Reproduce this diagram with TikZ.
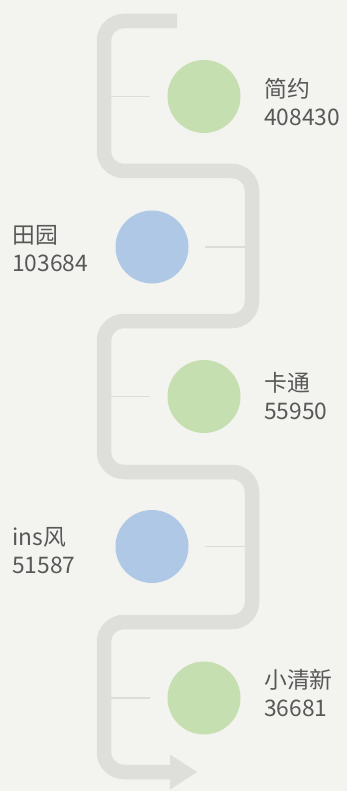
\documentclass[tikz,border=0pt]{standalone}
\usepackage{fontspec}
\newfontfamily\cjk{Noto Sans CJK SC}
\definecolor{bg}{RGB}{243,243,240}
\definecolor{band}{RGB}{222,222,219}
\definecolor{tickc}{RGB}{220,220,216}
\definecolor{greenc}{RGB}{198,223,176}
\definecolor{bluec}{RGB}{174,200,229}
\definecolor{txt}{RGB}{88,88,88}
\tikzset{
  bandline/.style={draw=band, line width=14.5pt, rounded corners=20pt, line cap=butt},
  tickline/.style={draw=tickc, line width=1.5pt},
  dotg/.style={circle, fill=greenc, minimum size=73pt, inner sep=0pt},
  dotb/.style={circle, fill=bluec, minimum size=73pt, inner sep=0pt},
  lbl/.style={anchor=base west, align=left, inner sep=0pt, text=txt, font=\cjk\fontsize{22.8}{28}\selectfont},
}
\begin{document}
\begin{tikzpicture}[x=1pt, y=-1pt]
\fill[bg] (0,0) rectangle (347,791);
\useasboundingbox (0,0) rectangle (347,791);
% path
\coordinate (s) at (177,21);
\coordinate (e) at (170,772);
\draw[bandline] (s) -- (104,21) -- (104,171) -- (252,171) -- (252,321) -- (104,321) -- (104,472) -- (252,472) -- (252,622) -- (104,622) -- (104,772) -- (e);
\coordinate (h1) at (170,754.5);
\coordinate (h2) at (197,772);
\coordinate (h3) at (170,789.5);
\fill[band] (h1) -- (h2) -- (h3) -- cycle;
% circles
\node[dotg] (c1) at (204,96.5) {};
\node[dotb] (c2) at (152,247) {};
\node[dotg] (c3) at (204,396.5) {};
\node[dotb] (c4) at (152,546.5) {};
\node[dotg] (c5) at (204,698) {};
% ticks
\coordinate (t1) at (111,96.5);
\coordinate (t2) at (245,247);
\coordinate (t3) at (111,396.5);
\coordinate (t4) at (245,546.5);
\coordinate (t5) at (111,698);
\draw[tickline] (t1) -- (150,96.5);
\draw[tickline] (205,247) -- (t2);
\draw[tickline] (t3) -- (150,396.5);
\draw[tickline] (205,546.5) -- (t4);
\draw[tickline] (t5) -- (150,698);
% labels (anchor = baseline of the last line)
\node[lbl] (l1) at (264,126) {简约\\408430};
\node[lbl] (l2) at (12,271) {田园\\103684};
\node[lbl] (l3) at (264,419) {卡通\\55950};
\node[lbl] (l4) at (12,573) {ins风\\51587};
\node[lbl] (l5) at (264,716) {小清新\\36681};
\end{tikzpicture}
\end{document}
